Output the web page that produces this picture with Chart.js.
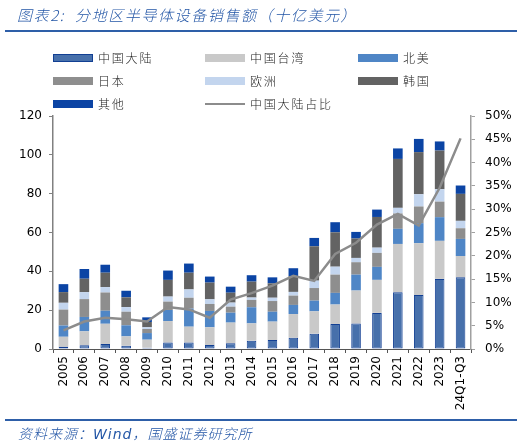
<!DOCTYPE html>
<html>
<head>
<meta charset="utf-8">
<script src="https://cdn.jsdelivr.net/npm/chart.js@4.4.0/dist/chart.umd.min.js"></script>
<style>
  body { margin: 0; background: #fff; }
  #wrap { position: relative; width: 526px; height: 445px; overflow: hidden; }
  #wrap canvas { position: absolute; left: 0; top: 0; }
  .title { position: absolute; left: 17px; top: 4px; font: italic 300 15px "Noto Sans CJK SC"; color: #2356A6; letter-spacing: 1.6px; white-space: nowrap; }
  .rule { position: absolute; left: 5px; width: 512px; height: 2px; background: #2E5FA8; }
  .source { position: absolute; left: 18px; top: 423px; font: italic 300 14px "DejaVu Sans", "Noto Sans CJK SC"; color: #2356A6; letter-spacing: 1px; white-space: nowrap; }
  .item { position: absolute; height: 16px; font: 300 12px "Noto Sans CJK SC"; color: #222; letter-spacing: 1.8px; white-space: nowrap; line-height: 16px; }
  .sw { position: absolute; left: 0; top: 4px; width: 40px; height: 8px; box-sizing: border-box; }
  .item span { position: absolute; left: 45px; top: 0; }
</style>
</head>
<body>
<div id="wrap">
  <canvas id="chart"></canvas>
  <div class="title">图表2:&nbsp; 分地区半导体设备销售额（十亿美元）</div>
  <div class="rule" style="top:30px"></div>
  <div id="legend"></div>
  <div class="rule" style="top:419px"></div>
  <div class="source">资料来源：Wind，国盛证券研究所</div>
</div>
<script>
// categories
var years = ['2005', '2006', '2007', '2008', '2009', '2010', '2011', '2012', '2013', '2014',
  '2015', '2016', '2017', '2018', '2019', '2020', '2021', '2022', '2023', '24Q1-Q3'];

// sales by region, billion USD
var china  = [1.1, 1.9, 2.6, 1.7, 0.7, 3.3, 3.3, 2.0, 2.9, 4.3, 4.6, 5.8, 7.9, 12.9, 13.1, 18.6, 29.2, 27.8, 36.1, 36.9];
var taiwan = [5.2, 7.2, 10.4, 4.8, 4.1, 11.1, 8.2, 9.2, 10.7, 8.9, 9.5, 12.2, 11.5, 10.0, 17.0, 17.0, 24.9, 26.7, 19.6, 11.0];
var northAmerica = [5.8, 7.4, 6.7, 5.7, 3.4, 5.7, 9.3, 8.4, 5.1, 8.3, 5.1, 4.7, 5.5, 6.0, 8.2, 6.7, 7.8, 10.3, 12.2, 8.8];
var japan  = [8.2, 9.2, 9.4, 7.0, 2.1, 4.3, 5.6, 3.6, 3.1, 3.8, 5.5, 4.8, 6.5, 9.4, 6.4, 7.2, 7.9, 8.6, 8.0, 5.5];
var europe = [3.5, 3.6, 2.8, 2.4, 0.9, 2.6, 4.3, 2.4, 2.1, 1.2, 1.7, 1.9, 3.8, 4.1, 2.2, 2.7, 2.9, 6.3, 6.4, 3.8];
var korea  = [5.5, 6.9, 7.4, 5.0, 2.7, 8.6, 8.6, 8.6, 5.1, 8.2, 7.4, 8.2, 17.7, 17.7, 10.0, 15.8, 25.2, 21.7, 19.9, 13.9];
var others = [4.1, 5.0, 4.1, 3.4, 2.4, 4.8, 4.7, 3.1, 3.1, 3.3, 3.1, 4.0, 4.3, 5.2, 3.4, 3.8, 5.4, 6.8, 4.7, 4.3];

// China mainland share, %
var chinaShare = [4.0, 5.9, 6.7, 6.4, 5.9, 9.0, 8.5, 6.7, 10.6, 12.0, 13.6, 15.7, 14.6, 20.4, 22.8, 26.7, 29.0, 26.5, 34.6, 45.2];

var leftTicks = [0, 20, 40, 60, 80, 100, 120];
var rightTicks = [0, 5, 10, 15, 20, 25, 30, 35, 40, 45, 50];

var axisFont = { family: 'DejaVu Sans', size: 12 };

function barSet(label, data, color, border)
{
  return {
    type: 'bar',
    label: label,
    data: data,
    backgroundColor: color,
    borderColor: border || color,
    borderWidth: border ? 1 : 0,
    borderSkipped: false,
    stack: 's',
    yAxisID: 'y',
    order: 1,
    barPercentage: 0.46,
    categoryPercentage: 1
  };
}

var datasets = [
  barSet('中国大陆', china, '#4770AB', '#123F93'),
  barSet('中国台湾', taiwan, '#C9C9C9'),
  barSet('北美', northAmerica, '#4F86C6'),
  barSet('日本', japan, '#8E8E8E'),
  barSet('欧洲', europe, '#C3D5EE'),
  barSet('韩国', korea, '#636363'),
  barSet('其他', others, '#0B44A4'),
  {
    type: 'line',
    label: '中国大陆占比',
    data: chinaShare,
    borderColor: '#8C8C8C',
    borderWidth: 2.5,
    pointRadius: 0,
    tension: 0,
    yAxisID: 'y1',
    order: 0
  }
];

// HTML legend, three columns
var legend = document.getElementById('legend');
var colX = [53, 205, 358];
var rowY = [50, 73, 96];

datasets.forEach(function (ds, i)
{
  var item = document.createElement('div');
  item.className = 'item';
  item.style.left = colX[i % 3] + 'px';
  item.style.top = rowY[Math.floor(i / 3)] + 'px';

  var sw = document.createElement('div');
  sw.className = 'sw';
  if (ds.type === 'line')
  {
    sw.style.top = '7px';
    sw.style.height = '2px';
    sw.style.background = ds.borderColor;
  }
  else
  {
    sw.style.background = ds.backgroundColor;
    if (ds.borderWidth) sw.style.border = '1px solid ' + ds.borderColor;
  }
  item.appendChild(sw);

  var txt = document.createElement('span');
  txt.innerText = ds.label;
  item.appendChild(txt);

  legend.appendChild(item);
});

var canvas = document.getElementById('chart');
canvas.parentNode.style.height = '445px';

new Chart(canvas, {
  data: { labels: years, datasets: datasets },
  options: {
    responsive: true,
    maintainAspectRatio: false,
    animation: false,
    layout: { padding: { left: 0, right: 0, top: 116, bottom: 0 } },
    plugins: {
      legend: { display: false },
      tooltip: { enabled: false }
    },
    scales: {
      x: {
        stacked: true,
        offset: true,
        grid: { display: true, drawOnChartArea: false, tickLength: 4, color: '#555', offset: true },
        border: { color: '#555', width: 1 },
        ticks: { color: '#000', font: axisFont, minRotation: 90, maxRotation: 90, padding: 3, autoSkip: false },
        afterFit: function (scale) { scale.height = 96; }
      },
      y: {
        stacked: true,
        position: 'left',
        min: 0,
        max: 120,
        afterBuildTicks: function (scale) { scale.ticks = leftTicks.map(function (v) { return { value: v }; }); },
        grid: { display: true, drawOnChartArea: false, tickLength: 4, color: '#808080' },
        border: { color: '#808080', width: 1.5 },
        ticks: { color: '#000', font: axisFont, padding: 7 },
        afterFit: function (scale) { scale.width = 53; }
      },
      y1: {
        position: 'right',
        min: 0,
        max: 50,
        afterBuildTicks: function (scale) { scale.ticks = rightTicks.map(function (v) { return { value: v }; }); },
        grid: { display: true, drawOnChartArea: false, tickLength: 4, color: '#A0A0A0' },
        border: { color: '#A0A0A0', width: 1.5 },
        ticks: { color: '#000', font: axisFont, padding: 10, callback: function (v) { return v + '%'; } },
        afterFit: function (scale) { scale.width = 55; }
      }
    }
  }
});
</script>
</body>
</html>
